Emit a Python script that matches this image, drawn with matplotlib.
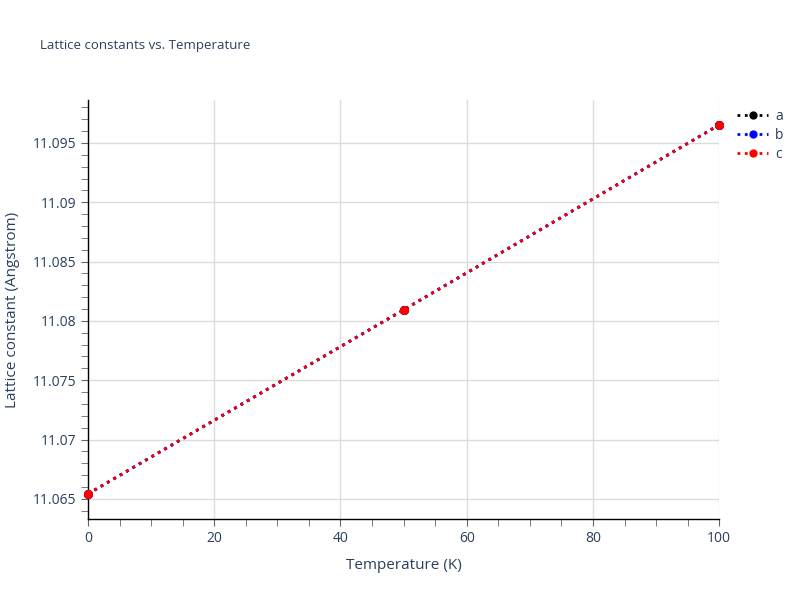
import matplotlib.pyplot as plt
from matplotlib.ticker import MultipleLocator
import numpy as np

plt.rcParams['font.family'] = ['Open Sans', 'DejaVu Sans']

temperature = [0, 50, 100]
lat_a = [11.06542, 11.08093, 11.09652]
lat_b = [11.06542, 11.08093, 11.09652]
lat_c = [11.06542, 11.08093, 11.09652]

txt = '#2a3f5f'
fig = plt.figure(figsize=(8, 6), dpi=100)
ax = fig.add_axes([0.11, 0.135, 0.789, 0.698])

for vals, col, name in [(lat_a, 'black', 'a'), (lat_b, 'blue', 'b'), (lat_c, 'red', 'c')]:
    ax.plot(temperature, vals, ':', color=col, lw=2, marker='o', ms=5.5,
            label=name, clip_on=False, zorder=3)

ax.set_xlim(0, 100)
ax.set_ylim(11.0633, 11.0986)
ax.xaxis.set_major_locator(MultipleLocator(20))
ax.xaxis.set_minor_locator(MultipleLocator(5))
ax.yaxis.set_major_locator(MultipleLocator(0.005))
ax.yaxis.set_minor_locator(MultipleLocator(0.001))

def yfmt(v, pos):
    return ('%.3f' % v).rstrip('0')
ax.yaxis.set_major_formatter(plt.FuncFormatter(yfmt))

ax.grid(True, which='major', color='#dcdcdc', lw=1)
ax.set_axisbelow(True)
for s in ['top', 'right']:
    ax.spines[s].set_visible(False)
for s in ['left', 'bottom']:
    ax.spines[s].set_color('black')
    ax.spines[s].set_linewidth(1)
ax.tick_params(which='major', length=5, color='#666666', labelcolor=txt, labelsize=10)
ax.tick_params(which='minor', length=5, color='#666666')

ax.set_xlabel('Temperature (K)', color=txt, fontsize=11, labelpad=9)
ax.set_ylabel('Lattice constant (Angstrom)', color=txt, fontsize=11, labelpad=9)
fig.text(0.05, 0.925, 'Lattice constants vs. Temperature', color=txt, fontsize=9.5, va='center')

leg = ax.legend(loc='upper left', bbox_to_anchor=(1.02, 0.993), frameon=False,
                fontsize=10, handlelength=2.2, labelcolor=txt, borderaxespad=0,
                labelspacing=0.3, handletextpad=0.5, markerscale=0.9)

fig.savefig('out.png', dpi=100)
